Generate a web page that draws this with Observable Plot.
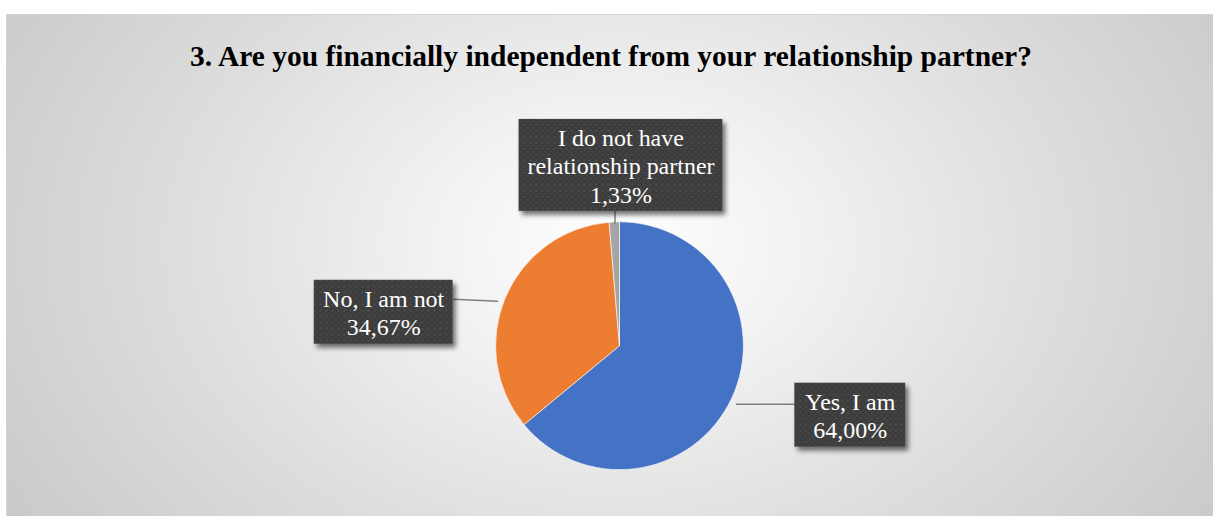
<!DOCTYPE html>
<html>
<head>
<meta charset="utf-8">
<script src="https://cdn.jsdelivr.net/npm/d3@7"></script>
<script src="https://cdn.jsdelivr.net/npm/@observablehq/plot@0.6"></script>
<style>
  html, body { margin: 0; padding: 0; background: #ffffff; }
  body { width: 1213px; height: 516px; position: relative; overflow: hidden; }
  #chart {
    position: absolute; left: 6px; top: 14px; width: 1207px; height: 502px;
    background: radial-gradient(ellipse 720px 520px at 610px 230px, #ffffff 0%, #f2f2f2 25%, #dedede 60%, #c9c9c9 100%);
    border-top: 1px solid #d4d4d4; border-left: 1px solid #d4d4d4;
    box-sizing: border-box;
  }
  svg { display: block; }
</style>
</head>
<body>
<div id="chart"></div>
<script>
// ---- data ----
const categories = ["Yes, I am", "No, I am not", "I do not have relationship partner"];
const values = [64.00, 34.67, 1.33];
const valueLabels = ["64,00%", "34,67%", "1,33%"];
const labelLines = [["Yes, I am", "64,00%"], ["No, I am not", "34,67%"], ["I do not have", "relationship partner", "1,33%"]];
const titleText = "3. Are you financially independent from your relationship partner?";

// ---- layout (pixels, in the SVG) ----
const W = 1207, H = 502;
const CX = 613, CY = 331, R = 124;
const colors = ["#4472C4", "#ED7D31", "#A5A5A5"];
// label boxes: [x1, y1, x2, y2]
const boxes = [
  [788, 368, 899, 432],
  [307, 265, 446, 329],
  [512, 104, 716, 196]
];
// leader lines: [x1,y1,x2,y2]
const leaders = [
  [729, 389, 788, 389],
  [446, 284, 491, 286],
  [608, 196, 608, 209]
];

const slices = categories.map((c, i) => ({category: c, value: values[i], color: colors[i]}));
const pieGen = d3.pie().sort(null).value(d => d.value).startAngle(0).endAngle(2 * Math.PI);
const arcs = pieGen(slices);

const boxData = boxes.map((b, i) => ({i, x1: b[0], y1: b[1], x2: b[2], y2: b[3], lines: labelLines[i]}));
const textData = [];
boxData.forEach(b => {
  const n = b.lines.length, lh = 28.5;
  const cy = (b.y1 + b.y2) / 2;
  b.lines.forEach((t, k) => textData.push({x: (b.x1 + b.x2) / 2, y: cy + (k - (n - 1) / 2) * lh + 1, t}));
});
const leaderData = leaders.map(l => ({x1: l[0], y1: l[1], x2: l[2], y2: l[3]}));

// defs mark (pattern + shadow)
function defsMark() {
  const svgns = "http://www.w3.org/2000/svg";
  const g = document.createElementNS(svgns, "g");
  g.innerHTML = `
  <defs>
    <pattern id="dots" width="6" height="6" patternUnits="userSpaceOnUse">
      <rect width="6" height="6" fill="#3d3d3d"></rect>
      <rect x="1" y="1" width="1.4" height="1.4" fill="#595959"></rect>
      <rect x="4" y="4" width="1.4" height="1.4" fill="#4a4a4a"></rect>
    </pattern>
    <filter id="shadow" x="-20%" y="-20%" width="150%" height="160%">
      <feGaussianBlur in="SourceAlpha" stdDeviation="2.5"></feGaussianBlur>
      <feOffset dx="3" dy="4" result="ob"></feOffset>
      <feComponentTransfer><feFuncA type="linear" slope="0.55"></feFuncA></feComponentTransfer>
      <feMerge><feMergeNode></feMergeNode><feMergeNode in="SourceGraphic"></feMergeNode></feMerge>
    </filter>
  </defs>`;
  return g;
}

function pieMark(index, scales) {
  const arcGen = d3.arc().innerRadius(0).outerRadius(scales.x(CX + R) - scales.x(CX));
  const g = d3.create("svg:g").attr("transform", `translate(${scales.x(CX)},${scales.y(CY)})`);
  g.selectAll("path").data(arcs).join("path")
    .attr("d", arcGen)
    .attr("fill", d => d.data.color)
    .attr("stroke", "#ffffff").attr("stroke-width", 0.6);
  return g.node();
}

const chart = Plot.plot({
  width: W, height: H,
  margin: 0,
  style: {background: "transparent", overflow: "visible"},
  x: {domain: [0, W], range: [0, W], axis: null},
  y: {domain: [0, H], range: [0, H], axis: null},
  marks: [
    defsMark,
    Plot.text([titleText], {x: 604, y: 41, text: d => d, fontFamily: "Liberation Serif", fontWeight: "bold", fontSize: 29.5, fill: "#000000"}),
    pieMark,
    Plot.link(leaderData, {x1: "x1", y1: "y1", x2: "x2", y2: "y2", stroke: "#7f7f7f", strokeWidth: 1.5}),
    Plot.rect(boxData, {x1: "x1", y1: "y1", x2: "x2", y2: "y2", fill: "url(#dots)"}),
    Plot.text(textData, {x: "x", y: "y", text: "t", fill: "#ffffff", fontFamily: "Liberation Serif", fontSize: 24})
  ]
});
d3.select(chart).selectAll('g[fill="url(#dots)"]').attr("filter", "url(#shadow)");
document.getElementById("chart").appendChild(chart);
</script>
</body>
</html>
